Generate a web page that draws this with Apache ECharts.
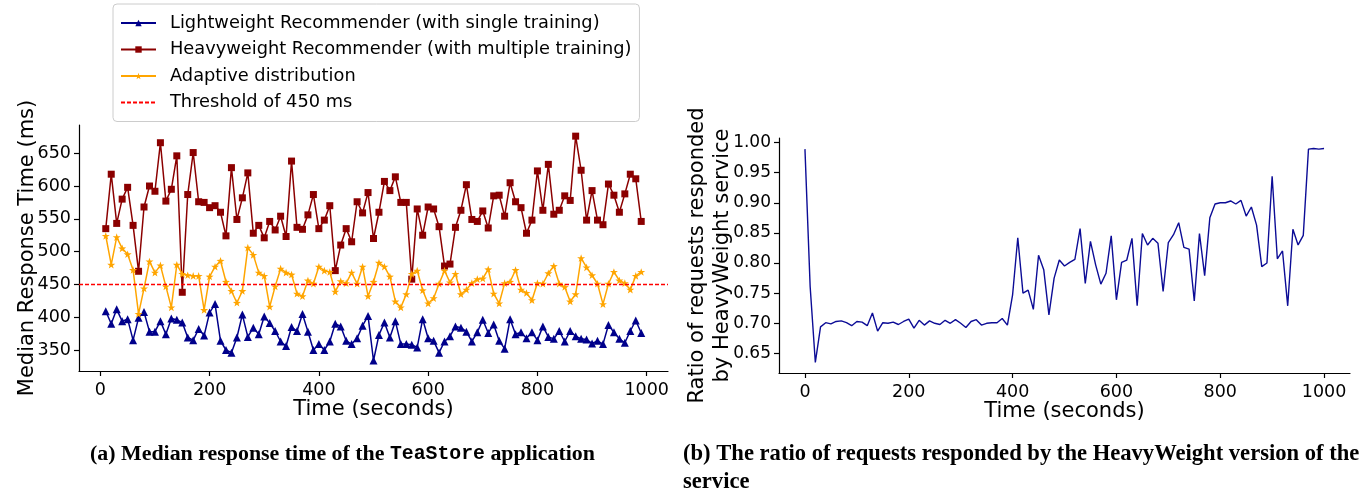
<!DOCTYPE html>
<html>
<head>
<meta charset="utf-8">
<script src="https://cdn.jsdelivr.net/npm/echarts@6/dist/echarts.min.js"></script>
<style>
  html, body { margin: 0; padding: 0; background: #ffffff; }
  #chart { width: 1370px; height: 491px; }
</style>
</head>
<body>
<div id="chart"></div>
<script>
// ---------- Data ----------
// Left panel: median response time (ms) sampled over time (seconds)
const timeA = [10,20,30,40,50,60,70,80,90,100,110,120,130,140,150,160,170,180,190,200,
  210,220,230,240,250,260,270,280,290,300,310,320,330,340,350,360,370,380,390,400,
  410,420,430,440,450,460,470,480,490,500,510,520,530,540,550,560,570,580,590,600,
  610,620,630,640,650,660,670,680,690,700,710,720,730,740,750,760,770,780,790,800,
  810,820,830,840,850,860,870,880,890,900,910,920,930,940,950,960,970,980,990];

const lightweight = [409,390,412,394,397,365,399,408,378,378,394,374,398,396,392,369,365,382,372,407,
  420,364,350,346,369,404,370,384,374,401,391,379,363,356,385,379,405,378,350,359,
  350,363,390,386,364,359,368,387,402,334,373,392,369,394,359,359,358,354,397,368,
  364,346,363,371,386,384,378,363,377,396,376,389,364,352,397,374,377,368,377,365,
  386,370,367,379,363,379,371,367,366,360,364,359,388,377,367,361,379,395,376];

const heavyweight = [535,618,543,580,598,540,470,568,600,592,666,577,595,646,438,587,651,576,575,567,
  570,560,524,628,549,582,620,528,540,521,546,533,554,523,638,537,534,556,587,535,
  548,570,471,510,535,515,576,559,590,520,560,607,593,614,575,575,458,565,525,568,
  565,538,478,481,537,563,602,549,546,562,536,585,586,554,605,576,567,528,548,623,
  563,633,557,563,585,578,676,624,548,593,548,541,603,586,560,588,618,611,546];

const adaptive = [524,480,522,505,496,472,405,444,485,468,479,447,415,480,466,464,463,463,411,462,
  477,486,454,440,422,440,506,495,468,463,416,447,474,468,465,436,432,456,451,477,
  471,469,439,455,452,468,451,477,432,454,483,477,462,424,415,435,466,471,441,421,
  429,451,471,453,466,435,442,452,458,459,473,436,421,452,454,472,442,437,426,452,
  451,467,478,451,446,424,435,490,476,464,451,420,451,469,456,452,442,463,469];

const threshold = 450;

const seriesNamesA = [
  'Lightweight Recommender (with single training)',
  'Heavyweight Recommender (with multiple training)',
  'Adaptive distribution',
  'Threshold of 450 ms'
];

const ticksA_x = [0,200,400,600,800,1000];
const ticksA_y = [350,400,450,500,550,600,650];

// Right panel: ratio of requests responded by the HeavyWeight service
const timeB = [0,10,20,30,40,50,60,70,80,90,100,110,120,130,140,150,160,170,180,190,200,
  210,220,230,240,250,260,270,280,290,300,310,320,330,340,350,360,370,380,390,400,
  410,420,430,440,450,460,470,480,490,500,510,520,530,540,550,560,570,580,590,600,
  610,620,630,640,650,660,670,680,690,700,710,720,730,740,750,760,770,780,790,800,
  810,820,830,840,850,860,870,880,890,900,910,920,930,940,950,960,970,980,990,1000];

const ratioHeavy = [0.989,0.761,0.635,0.694,0.701,0.699,0.703,0.704,0.701,0.696,0.703,
  0.702,0.696,0.717,0.687,0.701,0.700,0.702,0.698,0.703,0.707,
  0.692,0.705,0.697,0.704,0.700,0.698,0.705,0.700,0.706,0.700,
  0.693,0.703,0.706,0.697,0.700,0.701,0.701,0.708,0.697,0.747,
  0.842,0.750,0.755,0.723,0.813,0.789,0.714,0.775,0.805,0.795,
  0.801,0.806,0.857,0.766,0.836,0.797,0.765,0.783,0.845,0.739,
  0.801,0.805,0.841,0.729,0.849,0.830,0.841,0.833,0.753,0.834,
  0.847,0.867,0.826,0.823,0.737,0.849,0.779,0.875,0.898,0.900,
  0.900,0.903,0.898,0.904,0.878,0.893,0.863,0.794,0.800,0.944,
  0.807,0.820,0.729,0.856,0.830,0.846,0.989,0.990,0.989,0.990];

const ticksB_x = [0,200,400,600,800,1000];
const ticksB_y = [0.65,0.70,0.75,0.80,0.85,0.90,0.95,1.00];

// ---------- Chart ----------
const pair = (xs, ys) => xs.map((x, i) => [x, ys[i]]);
const STAR = 'path://M0,-10L2.35,-3.24L9.51,-3.09L3.8,1.24L5.88,8.09L0,4L-5.88,8.09L-3.8,1.24L-9.51,-3.09L-2.35,-3.24Z';
const FONT = 'DejaVu Sans';
const TICK_FS = 17.5;
const NAME_FS = 21;
const plain = v => String(v);

function axisCommon() {
  return {
    axisLine: { show: true, onZero: false, lineStyle: { color: '#000', width: 1.2 } },
    splitLine: { show: false },
    nameMoveOverlap: false,
    nameTextStyle: { fontFamily: FONT, fontSize: NAME_FS, color: '#000' }
  };
}

const chart = echarts.init(document.getElementById('chart'), null, { renderer: 'canvas' });

const option = {
  animation: false,
  backgroundColor: '#ffffff',
  grid: [
    { left: 79, top: 125, width: 589, height: 246, containLabel: false },
    { left: 779, top: 138, width: 571, height: 235, containLabel: false }
  ],
  legend: {
    left: 113, top: 4,
    orient: 'vertical',
    data: seriesNamesA,
    itemWidth: 35, itemHeight: 8, itemGap: 6.5,
    padding: [9, 8, 9, 7],
    borderColor: '#cccccc', borderWidth: 1, borderRadius: 4,
    backgroundColor: 'rgba(255,255,255,0.8)',
    textStyle: { fontFamily: FONT, fontSize: 17.8, color: '#000', lineHeight: 20, padding: [0, 0, 0, 9] }
  },
  xAxis: [
    Object.assign(axisCommon(), {
      type: 'value', gridIndex: 0, min: -39, max: 1039,
      name: 'Time (seconds)', nameLocation: 'middle', nameGap: 28,
      axisTick: { show: true, length: 5, customValues: ticksA_x, lineStyle: { color: '#000', width: 1.2 } },
      axisLabel: { customValues: ticksA_x, margin: 10, fontFamily: FONT, fontSize: TICK_FS, color: '#000', formatter: plain }
    }),
    Object.assign(axisCommon(), {
      type: 'value', gridIndex: 1, min: -50, max: 1050,
      name: 'Time (seconds)', nameLocation: 'middle', nameGap: 28,
      axisTick: { show: true, length: 5, customValues: ticksB_x, lineStyle: { color: '#000', width: 1.2 } },
      axisLabel: { customValues: ticksB_x, margin: 10, fontFamily: FONT, fontSize: TICK_FS, color: '#000', formatter: plain }
    })
  ],
  yAxis: [
    Object.assign(axisCommon(), {
      type: 'value', gridIndex: 0, min: 318, max: 693,
      name: 'Median Response Time (ms)', nameLocation: 'middle', nameRotate: 90, nameGap: 41,
      axisTick: { show: true, length: 5, customValues: ticksA_y, lineStyle: { color: '#000', width: 1.2 } },
      axisLabel: { customValues: ticksA_y, margin: 8, fontFamily: FONT, fontSize: TICK_FS, color: '#000', formatter: plain }
    }),
    Object.assign(axisCommon(), {
      type: 'value', gridIndex: 1, min: 0.6175, max: 1.0075,
      name: 'Ratio of requests responded\nby HeavyWeight service', nameLocation: 'middle', nameRotate: 90, nameGap: 44,
      nameTextStyle: { fontFamily: FONT, fontSize: NAME_FS, color: '#000', lineHeight: 25 },
      axisTick: { show: true, length: 5, customValues: ticksB_y, lineStyle: { color: '#000', width: 1.2 } },
      axisLabel: { customValues: ticksB_y, margin: 8, fontFamily: FONT, fontSize: 17, color: '#000',
        formatter: v => v.toFixed(2) }
    })
  ],
  series: [
    {
      name: seriesNamesA[0], type: 'line', xAxisIndex: 0, yAxisIndex: 0,
      data: pair(timeA, lightweight),
      symbol: 'triangle', symbolSize: 8, showAllSymbol: true,
      lineStyle: { color: '#00008b', width: 1.5 },
      itemStyle: { color: '#00008b' }, z: 2
    },
    {
      name: seriesNamesA[1], type: 'line', xAxisIndex: 0, yAxisIndex: 0,
      data: pair(timeA, heavyweight),
      symbol: 'rect', symbolSize: 7, showAllSymbol: true,
      lineStyle: { color: '#8b0000', width: 1.5 },
      itemStyle: { color: '#8b0000' }, z: 3
    },
    {
      name: seriesNamesA[2], type: 'line', xAxisIndex: 0, yAxisIndex: 0,
      data: pair(timeA, adaptive),
      symbol: STAR, symbolSize: 8, symbolKeepAspect: true, showAllSymbol: true,
      lineStyle: { color: '#ffa500', width: 1.5 },
      itemStyle: { color: '#ffa500' }, z: 4
    },
    {
      name: seriesNamesA[3], type: 'line', xAxisIndex: 0, yAxisIndex: 0,
      data: [], symbol: 'none',
      lineStyle: { color: '#ff0000', width: 1.3, type: [4, 2] },
      itemStyle: { color: 'rgba(0,0,0,0)' }, z: 5,
      markLine: {
        silent: true, symbol: 'none', label: { show: false },
        lineStyle: { color: '#ff0000', width: 1.3, type: [4, 2] },
        data: [{ yAxis: threshold }]
      }
    },
    {
      name: 'ratio', type: 'line', xAxisIndex: 1, yAxisIndex: 1,
      data: pair(timeB, ratioHeavy),
      symbol: 'none',
      lineStyle: { color: '#0c0c96', width: 1.4 }
    }
  ],
  graphic: [
    {
      type: 'text', left: 90, top: 443,
      style: {
        text: '{b|(a) Median response time of the }{m|TeaStore}{b| application}',
        rich: {
          b: { fontFamily: 'Liberation Serif', fontWeight: 'bold', fontSize: 21.9, fill: '#000' },
          m: { fontFamily: 'Liberation Mono', fontWeight: 'bold', fontSize: 19.8, fill: '#000' }
        }
      }
    },
    {
      type: 'text', left: 683, top: 443,
      style: {
        text: '(b) The ratio of requests responded by the HeavyWeight version of the',
        fontFamily: 'Liberation Serif', fontWeight: 'bold', fontSize: 22.6, fill: '#000'
      }
    },
    {
      type: 'text', left: 683, top: 471,
      style: {
        text: 'service',
        fontFamily: 'Liberation Serif', fontWeight: 'bold', fontSize: 22.6, fill: '#000'
      }
    }
  ]
};

chart.setOption(option);
</script>
</body>
</html>
